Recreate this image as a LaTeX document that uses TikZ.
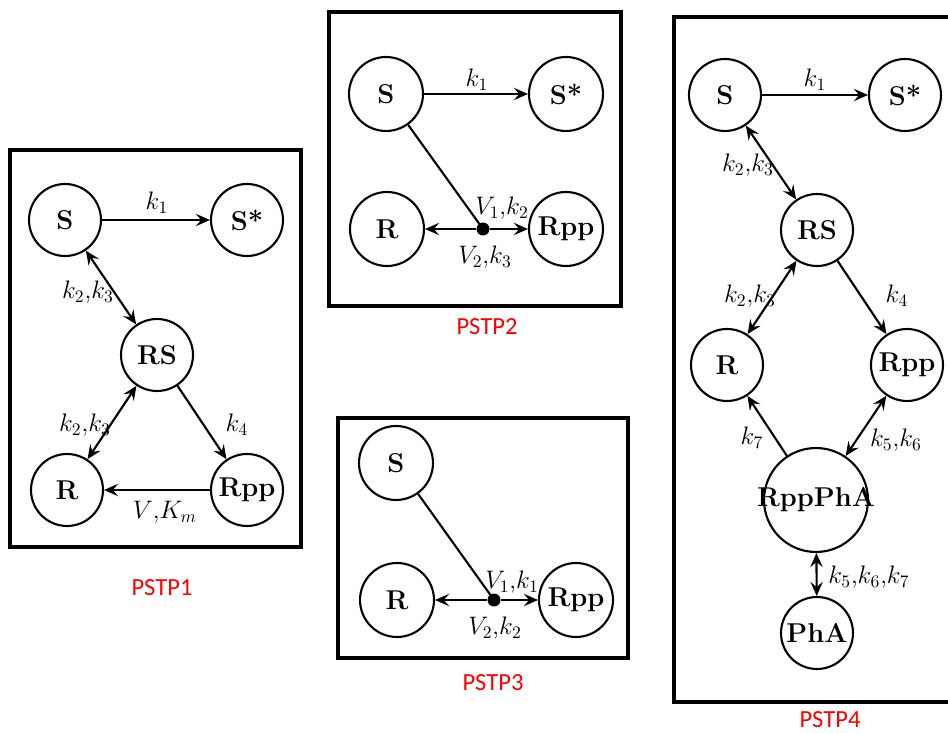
\documentclass[tikz,border=0pt]{standalone}
\usepackage{fontspec}
\newfontfamily\labfont{Carlito}
\usetikzlibrary{arrows.meta}
\begin{document}
\begin{tikzpicture}[x=0.02cm,y=-0.02cm,
  st/.style={circle,draw,line width=1.2pt,minimum size=1.44cm,inner sep=0pt,font=\fontsize{15.5}{18}\selectfont\bfseries},
  stb/.style={st,minimum size=1.48cm},
  lab/.style={font=\fontsize{14}{17}\selectfont,inner sep=1pt},
  frame/.style={draw,line width=2pt},
  ttl/.style={font=\labfont\fontsize{14}{17}\selectfont,text=red,inner sep=0pt},
  con/.style={line width=1.2pt},
  tip/.tip={Stealth[length=8pt,width=7pt,inset=3pt]},
  arr/.style={con,-tip},
  darr/.style={con,tip-tip},
  dotn/.style={circle,fill,inner sep=0pt,minimum size=0.26cm}]
\useasboundingbox (0,0) rectangle (948,733);

% ---------- PSTP1 ----------
\draw[frame] (10,150) rectangle (301,547);
\node[st] (a1S)   at (65,220)  {S};
\node[st] (a1Ss)  at (247,220) {S*};
\node[st] (a1RS)  at (157,355) {RS};
\node[st] (a1R)   at (67,490)  {R};
\node[st] (a1Rpp) at (247,490) {Rpp};
\draw[arr]  (a1S) -- (a1Ss);
\draw[darr] (a1S) -- (a1RS);
\draw[darr] (a1R) -- (a1RS);
\draw[arr]  (a1RS) -- (a1Rpp);
\draw[arr]  (a1Rpp) -- (a1R);
\node[lab] (a1l1) at (157,203) {$k_1$};
\node[lab] (a1l2) at (88,292)  {$k_2$,$k_3$};
\node[lab] (a1l3) at (85,425)  {$k_2$,$k_3$};
\node[lab] (a1l4) at (237,425) {$k_4$};
\node[lab] (a1l5) at (165,512) {$V$,$K_m$};
\node[ttl] (a1t)  at (162,588) {PSTP1};

% ---------- PSTP2 ----------
\draw[frame] (329,12) rectangle (621,306);
\node[stb] (b2S)   at (386,94)  {S};
\node[stb] (b2Ss)  at (566,94)  {S*};
\node[stb] (b2R)   at (387,229) {R};
\node[stb] (b2Rpp) at (566,229) {Rpp};
\node[dotn] (b2d)  at (483,229) {};
\draw[arr] (b2S) -- (b2Ss);
\draw[con] (b2S) -- (b2d.center);
\draw[arr] (b2d) -- (b2R);
\draw[arr] (b2d) -- (b2Rpp);
\node[lab] (b2l1) at (477,80)  {$k_1$};
\node[lab] (b2l2) at (502,208) {$V_1$,$k_2$};
\node[lab] (b2l3) at (485,257) {$V_2$,$k_3$};
\node[ttl] (b2t)  at (487,327) {PSTP2};

% ---------- PSTP3 ----------
\draw[frame] (338,418) rectangle (628,658);
\node[stb] (c3S)   at (396,463) {S};
\node[stb] (c3R)   at (397,600) {R};
\node[stb] (c3Rpp) at (576,600) {Rpp};
\node[dotn] (c3d)  at (494,600) {};
\draw[con] (c3S) -- (c3d.center);
\draw[arr] (c3d) -- (c3R);
\draw[arr] (c3d) -- (c3Rpp);
\node[lab] (c3l1) at (512,582) {$V_1$,$k_1$};
\node[lab] (c3l2) at (495,628) {$V_2$,$k_2$};
\node[ttl] (c3t)  at (493,683) {PSTP3};

% ---------- PSTP4 ----------
\draw[frame] (948,17) -- (674,17) -- (674,702) -- (948,702);
\node[st] (d4S)   at (725,95)  {S};
\node[st] (d4Ss)  at (905,95)  {S*};
\node[st] (d4RS)  at (817,230) {RS};
\node[st] (d4R)   at (727,365) {R};
\node[st] (d4Rpp) at (907,365) {Rpp};
\node[st,minimum size=2.08cm] (d4RP) at (816,500) {\makebox[0pt]{RppPhA}};
\node[st] (d4P)   at (817,633) {PhA};
\draw[arr]  (d4S) -- (d4Ss);
\draw[darr] (d4S) -- (d4RS);
\draw[darr] (d4R) -- (d4RS);
\draw[arr]  (d4RS) -- (d4Rpp);
\draw[arr]  (d4RP) -- (d4R);
\draw[darr] (d4RP) -- (d4Rpp);
\draw[darr] (d4RP) -- (d4P);
\node[lab] (d4l1) at (815,80)  {$k_1$};
\node[lab] (d4l2) at (748,165) {$k_2$,$k_3$};
\node[lab] (d4l3) at (750,296) {$k_2$,$k_3$};
\node[lab] (d4l4) at (897,296) {$k_4$};
\node[lab] (d4l5) at (752,438) {$k_7$};
\node[lab] (d4l6) at (896,440) {$k_5$,$k_6$};
\node[lab] (d4l7) at (869,577) {$k_5$,$k_6$,$k_7$};
\node[ttl] (d4t)  at (830,720) {PSTP4};
\end{tikzpicture}
\end{document}
